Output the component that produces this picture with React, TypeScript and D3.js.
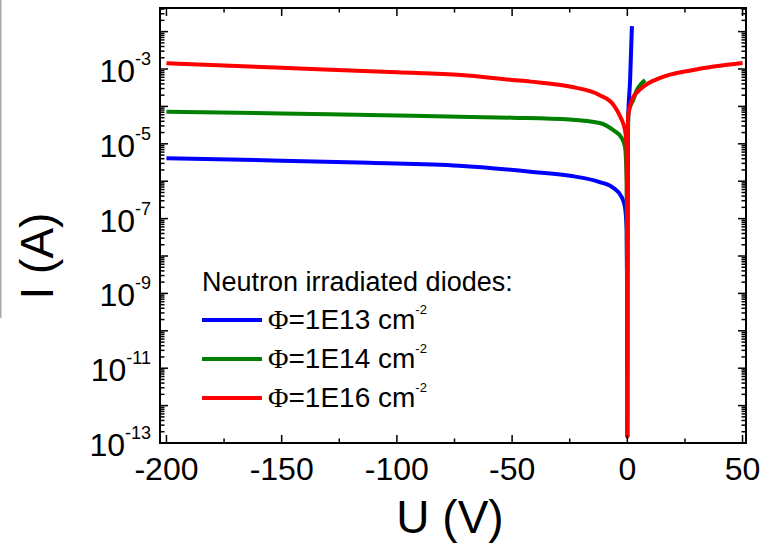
import React from 'react';
import * as d3 from 'd3';

// ---- data ----
const blueU = [-200, -150, -112, -73, -42, -25, -12, -6, -2.5, -1, -0.3, -0.1, 0, 0.05, 0.15, 0.3, 1.2, 2.0];
const blueI = [4.1e-6, 3.55e-6, 3.1e-6, 2.6e-6, 1.8e-6, 1.4e-6, 9.5e-7, 6.6e-7, 3.8e-7, 2.0e-7, 5e-8, 1e-9, 1.5e-13, 1e-9, 1e-6, 3.6e-5, 5e-4, 1.4e-2];

const greenU = [-200, -150, -112, -73, -50, -25, -12, -6, -2.5, -1, -0.3, -0.1, 0, 0.05, 0.15, 0.5, 2.6, 4.1, 6, 7.7];
const greenI = [7.2e-5, 6.5e-5, 5.9e-5, 5.3e-5, 5.0e-5, 4.5e-5, 3.6e-5, 2.3e-5, 1.45e-5, 8.1e-6, 1e-6, 1e-9, 1.5e-13, 1e-9, 1e-6, 7e-5, 1.5e-4, 2.75e-4, 4e-4, 5.1e-4];

const redU = [-200, -150, -100, -72, -50, -42, -25, -12, -6, -3, -1, -0.3, -0.1, -0.03, 0, 0.03, 0.1, 0.3, 1, 2, 6.8, 14, 28.5, 50];
const redI = [1.42e-3, 1.08e-3, 8.2e-4, 6.9e-4, 5.1e-4, 4.6e-4, 3.4e-4, 2.0e-4, 1.1e-4, 5.2e-5, 2.3e-5, 8e-6, 1e-7, 1e-10, 1.5e-13, 1e-10, 1e-7, 5.2e-5, 9e-5, 1.5e-4, 3.3e-4, 5.7e-4, 9.4e-4, 1.45e-3];

const seriesColors = ['#0000ff', '#008000', '#ff0000'];
const seriesFluence = ['1E13', '1E14', '1E16'];
const legendTitle = 'Neutron irradiated diodes:';

const xTickValues = [-200, -150, -100, -50, 0, 50];
const xMinorTickValues = [-175, -125, -75, -25, 25];
const yLabelExponents = [-3, -5, -7, -9, -11, -13];
const yMajorExponents = [-13, -12, -11, -10, -9, -8, -7, -6, -5, -4, -3, -2];

const FONT = "'Liberation Sans', Arial, sans-serif";

export default function App() {
  const L = 160, R = 746, T = 8, B = 443;
  const x = d3.scaleLinear().domain([-202.8, 51.5]).range([L, R]);
  const y = d3.scaleLog().domain([1e-13, 0.0428]).range([B, T]);

  const line = d3
    .line<[number, number]>()
    .x((d) => x(d[0]))
    .y((d) => y(d[1]))
    .curve(d3.curveMonotoneX);

  const series = [
    { U: blueU, I: blueI },
    { U: greenU, I: greenI },
    { U: redU, I: redI },
  ];

  // minor log ticks
  const yMinor: number[] = [];
  for (const e of yMajorExponents) {
    for (let m = 2; m <= 9; m++) {
      const v = m * Math.pow(10, e);
      if (v < 0.0428) yMinor.push(v);
    }
  }

  const majLen = 8;
  const minLen = 4.5;

  return (
    <svg
      width={776}
      height={543}
      style={{ position: 'absolute', left: 0, top: 0, display: 'block', background: '#fff' }}
      fontFamily={FONT}
    >
      <rect x={0} y={0} width={776} height={543} fill="#fff" />
      <rect x={0} y={0} width={1.5} height={318} fill="#a8a8a8" />

      {/* curves */}
      {series.map((s, i) => (
        <path
          key={i}
          d={line(s.U.map((u, k) => [u, s.I[k]] as [number, number])) || ''}
          fill="none"
          stroke={seriesColors[i]}
          strokeWidth={4}
          strokeLinejoin="round"
        />
      ))}

      {/* ticks */}
      <g stroke="#000" strokeWidth={1.5}>
        {xTickValues.map((v) => (
          <g key={'xt' + v}>
            <line x1={x(v)} x2={x(v)} y1={B} y2={B - majLen} />
            <line x1={x(v)} x2={x(v)} y1={T} y2={T + majLen} />
          </g>
        ))}
        {xMinorTickValues.map((v) => (
          <g key={'xm' + v}>
            <line x1={x(v)} x2={x(v)} y1={B} y2={B - minLen} />
            <line x1={x(v)} x2={x(v)} y1={T} y2={T + minLen} />
          </g>
        ))}
        {yMajorExponents.map((e) => {
          const yy = y(Math.pow(10, e));
          return (
            <g key={'ym' + e}>
              <line x1={L} x2={L + majLen} y1={yy} y2={yy} />
              <line x1={R} x2={R - majLen} y1={yy} y2={yy} />
            </g>
          );
        })}
        {yMinor.map((v, k) => {
          const yy = y(v);
          return (
            <g key={'yn' + k}>
              <line x1={L} x2={L + minLen} y1={yy} y2={yy} />
              <line x1={R} x2={R - minLen} y1={yy} y2={yy} />
            </g>
          );
        })}
      </g>

      {/* frame */}
      <rect x={L} y={T} width={R - L} height={B - T} fill="none" stroke="#000" strokeWidth={2} />

      {/* x tick labels */}
      {xTickValues.map((v) => (
        <text key={'xl' + v} x={x(v)} y={480} textAnchor="middle" fontSize={32} fill="#000">
          {v}
        </text>
      ))}

      {/* y tick labels */}
      {yLabelExponents.map((e) => (
        <text key={'yl' + e} x={151} y={y(Math.pow(10, e)) + 13} textAnchor="end" fontSize={32} fill="#000">
          10
          <tspan dy={-17} fontSize={18}>
            {String(e)}
          </tspan>
        </text>
      ))}

      {/* axis titles */}
      <text x={450} y={533} textAnchor="middle" fontSize={46} fill="#000">
        U (V)
      </text>
      <text transform="translate(53,256) rotate(-90)" textAnchor="middle" fontSize={46} fill="#000">
        I (A)
      </text>

      {/* legend */}
      <text x={202} y={291} fontSize={27} fill="#000">
        {legendTitle}
      </text>
      {seriesFluence.map((f, i) => {
        const ly = 320 + i * 39;
        return (
          <g key={'lg' + i}>
            <line x1={202} x2={262} y1={ly} y2={ly} stroke={seriesColors[i]} strokeWidth={4} />
            <text x={268} y={ly + 8.5} fontSize={28} fill="#000">
              <tspan fontFamily="'Liberation Serif', 'Times New Roman', serif">Φ</tspan>
              {'=' + f + ' cm'}
              <tspan dy={-15} fontSize={13}>
                -2
              </tspan>
            </text>
          </g>
        );
      })}
    </svg>
  );
}
